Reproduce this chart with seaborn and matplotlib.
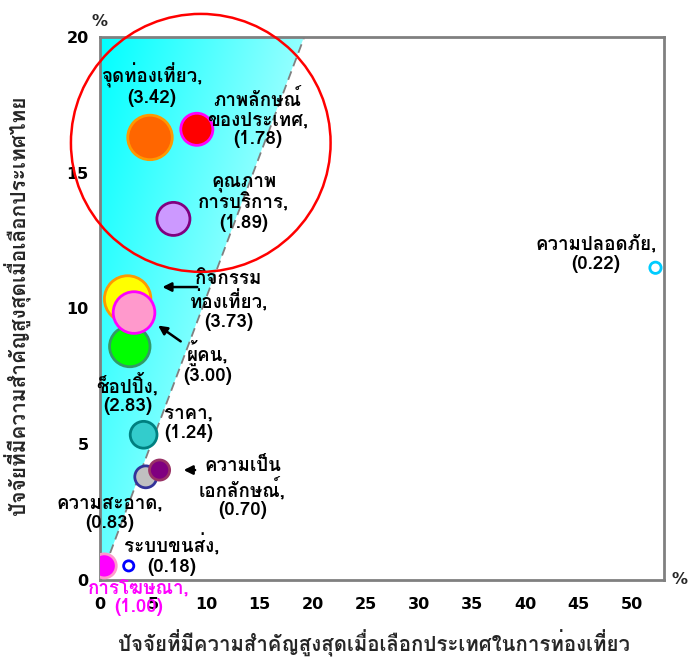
import numpy as np
import pandas as pd
import matplotlib
matplotlib.use("Agg")
import matplotlib.pyplot as plt
import seaborn as sns
from matplotlib.patches import Polygon, Ellipse

# factor names (line breaks as in the chart labels)
factors = ["จุดท่องเที่ยว", "ภาพลักษณ์\nของประเทศ", "คุณภาพ\nการบริการ", "กิจกรรม\nท่องเที่ยว",
           "ช็อปปิ้ง", "ผู้คน", "ราคา", "ความสะอาด", "ความเป็น\nเอกลักษณ์", "ระบบขนส่ง",
           "การโฆษณา", "ความปลอดภัย"]
# % most important when choosing a country to travel (x)
pct_any_country = [4.7, 9.1, 6.9, 2.6, 2.8, 3.2, 4.1, 4.3, 5.6, 2.7, 0.4, 52.2]
# % most important when choosing Thailand (y)
pct_thailand = [16.3, 16.6, 13.3, 10.35, 8.6, 9.85, 5.35, 3.8, 4.05, 0.52, 0.52, 11.5]
# bubble value shown in brackets
bubble_vals = [3.42, 1.78, 1.89, 3.73, 2.83, 3.00, 1.24, 0.83, 0.70, 0.18, 1.00, 0.22]

face_cols = ["#FF6600", "#FF0000", "#CC99FF", "#FFFF00", "#00FF00", "#FF99CC", "#33CCCC",
             "#C0C0C0", "#800080", "#FFFFFF", "#FF00FF", "#FFFFFF"]
edge_cols = ["#FF9900", "#FF00FF", "#800080", "#FF9900", "#339966", "#FF00FF", "#008080",
             "#333399", "#993366", "#0000FF", "#FF99CC", "#00CCFF"]

# label block centres (data units)
label_xy = [(4.9, 18.25), (14.8, 17.0), (13.5, 13.9), (12.1, 10.28), (2.6, 6.85), (10.1, 8.03),
            (8.3, 5.78), (0.95, 2.47), (13.4, 3.39), (6.75, 0.92), (3.66, -0.65), (46.6, 12.0)]

df = pd.DataFrame({"factor": factors, "x": pct_any_country, "y": pct_thailand, "val": bubble_vals})

sns.set_theme(style="white")
plt.rcParams["font.family"] = ["Loma", "Noto Sans Thai Looped", "DejaVu Sans"]
plt.rcParams["font.weight"] = "bold"

fig = plt.figure(figsize=(6.9, 6.64), dpi=100)
ax = fig.add_axes([0.1449, 0.1265, 0.8174, 0.8178])

# cyan gradient wedge left of the dashed line
top_x = 19.2
gx, gy = np.meshgrid(np.linspace(0, 1, 200), np.linspace(1, 0, 300))
t = np.clip(0.85 * gx + 0.6 * (1 - gy), 0, 1)
grad = np.dstack([t * 0.68, np.ones_like(t), np.ones_like(t)])
im = ax.imshow(grad, extent=[0, top_x, 0, 20], aspect="auto", zorder=0)
wedge = Polygon([(0, 0), (0, 20), (top_x, 20)], closed=True, facecolor="none", edgecolor="none",
                transform=ax.transData)
ax.add_patch(wedge)
im.set_clip_path(wedge)
ax.plot([0, top_x], [0, 20], ls=(0, (5, 3)), color="#808080", lw=1.3, zorder=1)

sns.scatterplot(data=df, x="x", y="y", hue="factor", palette=dict(zip(factors, face_cols)),
                size="val", sizes=(0, 1200), size_norm=(0, 4), legend=False,
                linewidth=2, ax=ax, zorder=3)
ax.collections[-1].set_edgecolors(edge_cols)

for name, v, (lx, ly) in zip(factors, bubble_vals, label_xy):
    col = "#FF00FF" if name == "การโฆษณา" else "black"
    ax.text(lx, ly, f"{name},\n({v:.2f})", ha="center", va="center", multialignment="center",
            fontsize=13.5, fontweight="bold", color=col, linespacing=1.08, zorder=4, clip_on=False)

# red highlight circle
ax.add_patch(Ellipse((9.47, 16.1), 24.4, 9.5, fill=False, edgecolor="red", lw=1.8,
                     clip_on=False, zorder=5))

# arrows
arrows = [((9.4, 10.79), (5.6, 10.79)), ((7.8, 8.73), (5.25, 9.43)), ((9.2, 4.05), (7.6, 4.05))]
for tail, head in arrows:
    ax.annotate("", xy=head, xytext=tail,
                arrowprops=dict(arrowstyle="-|>", color="black", lw=1.8, mutation_scale=13), zorder=5)

ax.set_xlim(0, 53)
ax.set_ylim(0, 20)
ax.set_xticks(range(0, 51, 5))
ax.set_yticks(range(0, 21, 5))
for s in ax.spines.values():
    s.set_color("#808080")
    s.set_linewidth(2)
ax.tick_params(axis="both", which="both", direction="out", length=4, width=1, color="#808080",
               labelsize=11.5, labelcolor="black")
ax.tick_params(axis="x", pad=8)
ax.tick_params(axis="y", pad=4)
for lab in ax.get_xticklabels() + ax.get_yticklabels():
    lab.set_fontweight("bold")
    lab.set_fontfamily("DejaVu Sans")
ax.set_xlabel("")
ax.set_ylabel("")

fig.text(100 / 690, 1 - 22 / 664, "%", ha="center", va="center", fontsize=11.5,
         fontweight="bold", family="DejaVu Sans")
fig.text(680 / 690, 1 - 580 / 664, "%", ha="center", va="center", fontsize=11.5,
         fontweight="bold", family="DejaVu Sans")
fig.text(374 / 690, 1 - 643 / 664, "ปัจจัยที่มีความสำคัญสูงสุดเมื่อเลือกประเทศในการท่องเที่ยว",
         ha="center", va="center", fontsize=14.7, fontweight="bold")
fig.text(17 / 690, 1 - 305 / 664, "ปัจจัยที่มีความสำคัญสูงสุดเมื่อเลือกประเทศไทย",
         ha="center", va="center", rotation=90, fontsize=15, fontweight="bold")

fig.savefig("out.png", dpi=100)
